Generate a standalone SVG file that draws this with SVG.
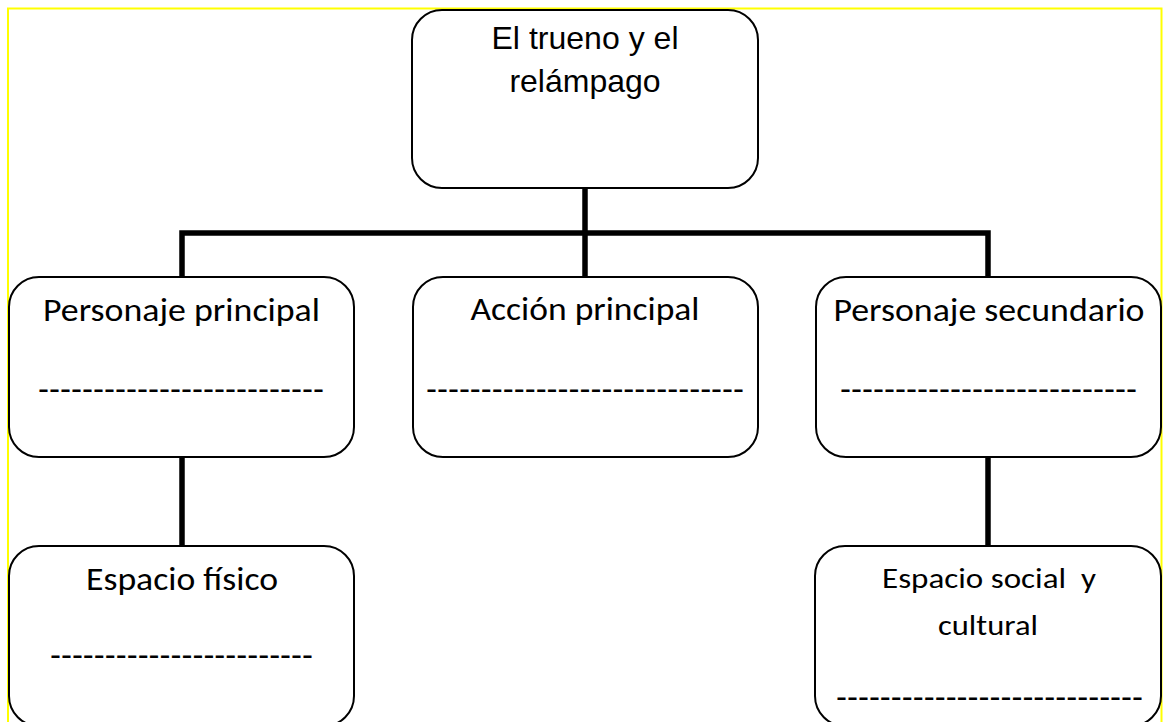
<svg xmlns="http://www.w3.org/2000/svg" width="1166" height="722" viewBox="0 0 1166 722">
<style>
.box{fill:#fff;stroke:#000;stroke-width:2}
.conn{fill:none;stroke:#000;stroke-width:5.5;stroke-linejoin:miter;stroke-linecap:butt}
.ar{font-family:"Liberation Sans",Arial,sans-serif;font-size:32px;fill:#000;text-anchor:middle}
.cb{font-family:Carlito,Lato,"Open Sans",sans-serif;font-size:32px;fill:#000;text-anchor:middle}
.cs{font-family:Carlito,Lato,"Open Sans",sans-serif;font-size:29.5px;fill:#000;text-anchor:middle}
.dash{font-family:"Liberation Sans",Arial,sans-serif;font-size:33px;fill:#000;text-anchor:middle}
</style>
<rect x="8" y="8.5" width="1153.5" height="760" fill="#fff" stroke="#ffff00" stroke-width="2"/>
<g id="connectors">
<path class="conn" d="M585,188 V277"/>
<path class="conn" d="M182,277 V233 H988 V277"/>
<path class="conn" d="M182,457 V546"/>
<path class="conn" d="M988,457 V546"/>
</g>
<g id="node-titulo">
<rect class="box" x="412" y="10" width="346" height="178" rx="30" ry="30"/>
<text class="ar" x="585" y="49" textLength="187" lengthAdjust="spacingAndGlyphs">El trueno y el</text>
<text class="ar" x="585" y="92">relámpago</text>
</g>
<g id="node-personaje-principal">
<rect class="box" x="9" y="277" width="345" height="180" rx="30" ry="30"/>
<text class="cb" x="181.5" y="321" textLength="277" lengthAdjust="spacingAndGlyphs">Personaje principal</text>
<text class="dash" x="181" y="400" textLength="286" lengthAdjust="spacingAndGlyphs">--------------------------</text>
</g>
<g id="node-accion-principal">
<rect class="box" x="413" y="277" width="345" height="180" rx="30" ry="30"/>
<text class="cb" x="585" y="320" textLength="229" lengthAdjust="spacingAndGlyphs">Acción principal</text>
<text class="dash" x="585" y="400" textLength="318" lengthAdjust="spacingAndGlyphs">-----------------------------</text>
</g>
<g id="node-personaje-secundario">
<rect class="box" x="816" y="277" width="345" height="180" rx="30" ry="30"/>
<text class="cb" x="989" y="321" textLength="311" lengthAdjust="spacingAndGlyphs">Personaje secundario</text>
<text class="dash" x="988.5" y="400" textLength="297" lengthAdjust="spacingAndGlyphs">---------------------------</text>
</g>
<g id="node-espacio-fisico">
<rect class="box" x="9" y="546" width="345" height="180" rx="30" ry="30"/>
<text class="cb" x="182" y="590" textLength="192" lengthAdjust="spacingAndGlyphs">Espacio físico</text>
<text class="dash" x="181.5" y="666" textLength="263" lengthAdjust="spacingAndGlyphs">------------------------</text>
</g>
<g id="node-espacio-social">
<rect class="box" x="815" y="546" width="346" height="180" rx="30" ry="30"/>
<text class="cs" x="989" y="588" textLength="214" lengthAdjust="spacingAndGlyphs" xml:space="preserve">Espacio social  y</text>
<text class="cs" x="988" y="635" textLength="100" lengthAdjust="spacingAndGlyphs">cultural</text>
<text class="dash" x="989.5" y="708" textLength="307" lengthAdjust="spacingAndGlyphs">----------------------------</text>
</g>
</svg>
